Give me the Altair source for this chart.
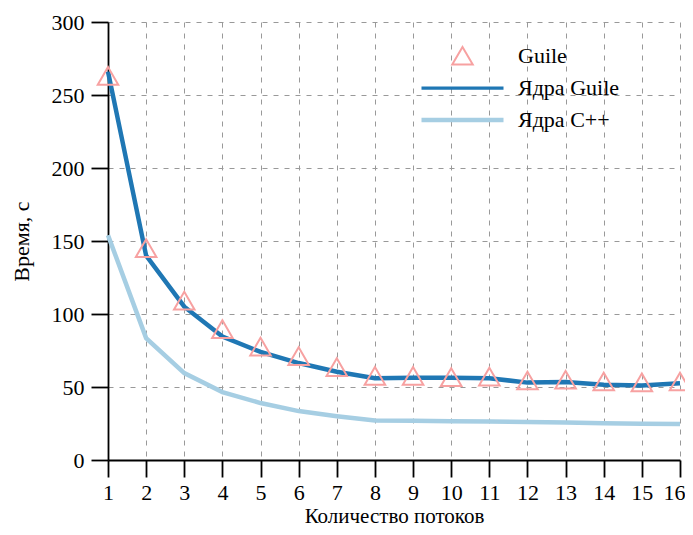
import altair as alt
import pandas as pd

threads = list(range(1, 17))
guile = [263, 145, 109, 89.5, 77.5, 71, 63.5, 57.5, 57.5, 56.6, 57, 54.3, 54.8, 53.6, 53, 53.6]
cores_guile = [266, 140, 105, 84.5, 74, 66.4, 60.5, 56, 56.4, 56.4, 56, 53, 53.5, 51.5, 51, 52.5]
cores_cpp = [154, 83.5, 59.5, 46.5, 39, 33.5, 30, 27, 26.9, 26.6, 26.3, 26, 25.6, 25.2, 24.8, 24.6]

series_names = ["Guile", "Ядра Guile", "Ядра C++"]
series_colors = ["#f7a1a1", "#1f77b4", "#a6cee3"]
# small triangle drawn inside the unit box, and a full-width stroke for the line entries
TRI = "M0,-0.22L0.25,0.21L-0.25,0.21Z"
STROKE = "M-1,0L1,0"

rows = []
for name, vals in zip(series_names, [guile, cores_guile, cores_cpp]):
    for t, v in zip(threads, vals):
        rows.append({"threads": t, "time": v, "series": name})
df = pd.DataFrame(rows)

FONT = "Liberation Serif"
SYM = 6724

x_enc = alt.X("threads:Q", scale=alt.Scale(domain=[1, 16], nice=False, zero=False),
              axis=alt.Axis(title="Количество потоков", values=threads, format="d",
                            labelFlush=False,
                            labelAlign=alt.expr("datum.value == 16 ? 'right' : 'center'"),
                            labelOffset=alt.expr("datum.value == 16 ? 5 : 0")))
y_enc = alt.Y("time:Q", scale=alt.Scale(domain=[0, 300], nice=False),
              axis=alt.Axis(title="Время, с", values=[0, 50, 100, 150, 200, 250, 300],
                            labelFlush=False))

leg = dict(title=None, orient="none", legendX=311, legendY=18)
color_enc = alt.Color("series:N", scale=alt.Scale(domain=series_names, range=series_colors),
                      legend=alt.Legend(**leg))
shape_enc = alt.Shape("series:N", scale=alt.Scale(domain=series_names, range=[TRI, STROKE, STROKE]),
                      legend=alt.Legend(**leg))
sw_enc = alt.StrokeWidth("series:N", scale=alt.Scale(domain=series_names, range=[2, 4.5, 4.5]),
                         legend=alt.Legend(**leg))

lines = alt.Chart(df).transform_filter(
    alt.datum.series != "Guile"
).mark_line(strokeWidth=4.5).encode(
    x=x_enc, y=y_enc, color=color_enc, detail="series:N"
)

points = alt.Chart(df).transform_filter(
    alt.datum.series == "Guile"
).mark_point(filled=False, opacity=1, size=SYM).encode(
    x=x_enc, y=y_enc, color=color_enc, shape=shape_enc, strokeWidth=sw_enc
)

chart = alt.layer(lines, points).properties(
    width=572, height=438,
    autosize=alt.AutoSizeParams(type="none"),
    padding={"left": 100, "top": 14, "right": 5, "bottom": 67},
).configure_view(stroke=None).configure_axis(
    labelFont=FONT, titleFont=FONT, labelFontSize=22, titleFontSize=22,
    labelColor="black", titleColor="black", titleFontWeight="normal",
    domainColor="black", domainWidth=1.8, tickColor="black", tickWidth=1.8, tickSize=17,
    labelPadding=7, grid=True, gridColor="#999999", gridDash=[5, 6], gridWidth=1,
).configure_axisX(
    titlePadding=2, titleFontSize=21, labelPadding=5
).configure_axisY(
    titlePadding=18
).configure_legend(
    symbolFillColor="transparent", symbolSize=SYM, rowPadding=0, clipHeight=32,
    labelFont=FONT, labelFontSize=22, labelColor="black", labelOffset=12
)

chart.save("out.html", embed_options={"renderer": "svg", "actions": False})
